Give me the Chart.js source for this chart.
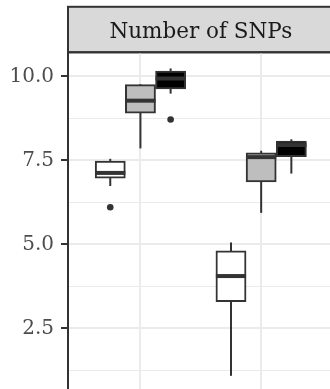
<!DOCTYPE html>
<html>
<head>
<meta charset="utf-8">
<script src="https://cdn.jsdelivr.net/npm/chart.js@4.4.1/dist/chart.umd.min.js"></script>
<style>
  html, body { margin: 0; padding: 0; overflow: hidden; background: #fff; }
  canvas { display: block; }
</style>
</head>
<body>
<canvas id="snpChart" width="345" height="400"></canvas>
<script>
// box stats per group: [lower whisker, q1, median, q3, upper whisker]
const groupPos = [1, 2];
const whiteStats = [[6.74, 6.97, 7.13, 7.48, 7.55], [1.09, 3.30, 4.06, 4.81, 5.06]];
const greyStats  = [[7.86, 8.91, 9.28, 9.76, 9.77], [5.94, 6.86, 7.60, 7.73, 7.79]];
const blackStats = [[9.49, 9.63, 9.94, 10.16, 10.24], [7.11, 7.61, 7.96, 8.08, 8.13]];
const whiteOutliers = [[6.11], []];
const greyOutliers  = [[], []];
const blackOutliers = [[8.72], []];

const yTicks = [2.5, 5.0, 7.5, 10.0];
const yMinor = [1.25, 3.75, 6.25, 8.75];

const series = [
  { stats: whiteStats, outliers: whiteOutliers, fill: "#FFFFFF", dodge: -0.25 },
  { stats: greyStats,  outliers: greyOutliers,  fill: "#BEBEBE", dodge: 0 },
  { stats: blackStats, outliers: blackOutliers, fill: "#000000", dodge: 0.25 }
];

const INK = "#333333";
const isMajor = (v) => yTicks.some(t => Math.abs(t - v) < 1e-6);

const boxDatasets = series.map((s) => ({
  type: "bar",
  data: groupPos.map((p, g) => ({ x: p + s.dodge, y: [s.stats[g][1], s.stats[g][3]] })),
  backgroundColor: s.fill,
  borderColor: INK,
  borderWidth: 2,
  borderSkipped: false,
  grouped: false,
  categoryPercentage: 1,
  barPercentage: 1,
  order: 1
}));

const outlierData = [];
series.forEach((s) => {
  groupPos.forEach((p, g) => {
    s.outliers[g].forEach((v) => outlierData.push({ x: p + s.dodge, y: v }));
  });
});

// whiskers under the boxes, medians on top, grey facet strip above the panel
const boxParts = {
  id: "boxParts",
  beforeDraw(chart) {
    const { ctx, chartArea } = chart;
    const top = 6.8;
    ctx.save();
    ctx.fillStyle = "#D9D9D9";
    ctx.fillRect(chartArea.left, top, chart.width, chartArea.top - top);
    ctx.strokeStyle = INK;
    ctx.lineWidth = 2;
    ctx.strokeRect(chartArea.left, top, chart.width, chartArea.top - top);
    ctx.restore();
  },
  beforeDatasetsDraw(chart) {
    const { ctx } = chart;
    const y = chart.scales.y;
    ctx.save();
    ctx.strokeStyle = INK;
    ctx.lineWidth = 2;
    series.forEach((s, i) => {
      chart.getDatasetMeta(i).data.forEach((bar, g) => {
        const st = s.stats[g];
        ctx.beginPath();
        ctx.moveTo(bar.x, y.getPixelForValue(st[0]));
        ctx.lineTo(bar.x, y.getPixelForValue(st[4]));
        ctx.stroke();
      });
    });
    ctx.restore();
  },
  afterDatasetsDraw(chart) {
    const { ctx, chartArea } = chart;
    const y = chart.scales.y;
    ctx.save();
    ctx.strokeStyle = INK;
    ctx.lineWidth = 4;
    series.forEach((s, i) => {
      chart.getDatasetMeta(i).data.forEach((bar, g) => {
        const my = y.getPixelForValue(s.stats[g][2]);
        ctx.beginPath();
        ctx.moveTo(bar.x - bar.width / 2, my);
        ctx.lineTo(bar.x + bar.width / 2, my);
        ctx.stroke();
      });
    });
    // strip bottom edge over the vertical grid lines
    ctx.lineWidth = 2;
    ctx.beginPath();
    ctx.moveTo(chartArea.left, chartArea.top);
    ctx.lineTo(chart.width, chartArea.top);
    ctx.stroke();
    ctx.restore();
  }
};

new Chart(document.getElementById("snpChart"), {
  type: "bar",
  data: {
    datasets: [
      ...boxDatasets,
      {
        type: "scatter",
        data: outlierData,
        pointRadius: 3.3,
        pointBackgroundColor: INK,
        pointBorderWidth: 0,
        order: 0
      }
    ]
  },
  options: {
    responsive: false,
    animation: false,
    devicePixelRatio: 1,
    layout: { padding: { top: 5.5, right: 11.4, left: 0, bottom: 0 } },
    plugins: {
      legend: { display: false },
      tooltip: { enabled: false },
      title: {
        display: true,
        text: "Number of SNPs",
        fullSize: false,
        color: "#1A1A1A",
        font: { family: "DejaVu Serif", size: 21.5, weight: "normal", lineHeight: 1.2 },
        padding: { top: 14, bottom: 7 }
      }
    },
    scales: {
      x: {
        type: "linear",
        min: 0.4,
        max: 2.6,
        offset: false,
        afterBuildTicks: (s) => { s.ticks = groupPos.map(v => ({ value: v })); },
        afterFit: (s) => { s.height = 0; s.paddingLeft = 0; s.paddingRight = 0; },
        grid: { color: "#EBEBEB", lineWidth: 2, drawTicks: false, offset: false },
        border: { display: false },
        ticks: { display: false }
      },
      y: {
        min: 0.49,
        max: 10.72,
        afterBuildTicks: (s) => {
          s.ticks = [...yMinor, ...yTicks].sort((a, b) => a - b).map(v => ({ value: v }));
        },
        afterFit: (s) => { s.width = 68; s.paddingTop = 0; s.paddingBottom = 0; },
        grid: {
          color: "#EBEBEB",
          lineWidth: (c) => isMajor(c.tick.value) ? 2 : 1,
          tickColor: (c) => isMajor(c.tick.value) ? INK : "rgba(0,0,0,0)",
          tickLength: 7,
          tickWidth: 2
        },
        border: { color: INK, width: 2 },
        ticks: {
          autoSkip: false,
          padding: 7,
          color: "#4D4D4D",
          font: { family: "DejaVu Serif", size: 20 },
          callback: (v) => isMajor(v) ? v.toFixed(1) : ""
        }
      }
    }
  },
  plugins: [boxParts]
});
</script>
</body>
</html>
